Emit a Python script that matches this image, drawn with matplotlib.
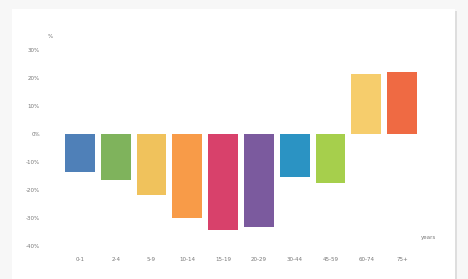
import matplotlib
matplotlib.use("Agg")
import matplotlib.pyplot as plt
from matplotlib.patches import Rectangle

# Datos
grupos = ["0-1", "2-4", "5-9", "10-14", "15-19", "20-29", "30-44", "45-59", "60-74", "75+"]
variacion = [-13.6, -16.4, -21.8, -30.0, -34.3, -33.2, -15.4, -17.5, 21.4, 22.1]
colores = ["#4f80b8", "#7fb35c", "#f0c25c", "#f89b48", "#d8416b",
           "#7b5a9e", "#2b93c3", "#a6cf4c", "#f6cd6c", "#ef6a43"]
ticks_y = [30, 20, 10, 0, -10, -20, -30, -40]

fig = plt.figure(figsize=(4.68, 2.79), dpi=100)
fig.patch.set_facecolor("#f7f7f7")

# Tarjeta blanca con sombra
fig.patches.append(Rectangle((14 / 468, -0.02), 443 / 468, 0.98, transform=fig.transFigure,
                             facecolor="#dedede", edgecolor="none", zorder=0))
fig.patches.append(Rectangle((12 / 468, -0.02), 443 / 468, 0.987, transform=fig.transFigure,
                             facecolor="white", edgecolor="none", zorder=1))

ax = fig.add_axes([62 / 468, (279 - 246) / 279, 358 / 468, 196 / 279])
ax.set_zorder(3)
ax.set_facecolor("none")

ax.bar(range(len(grupos)), variacion, width=0.83, color=colores)

ax.set_xlim(-0.5, len(grupos) - 0.5)
ax.set_ylim(-40, 30)
ax.set_yticks(ticks_y)
ax.set_yticklabels([f"{v}%" for v in ticks_y])
ax.set_xticks(range(len(grupos)))
ax.set_xticklabels(grupos)
ax.tick_params(axis="y", length=0, pad=16, labelsize=4, labelcolor="#777777")
ax.tick_params(axis="x", length=0, pad=8, labelsize=4, labelcolor="#777777")
for s in ax.spines.values():
    s.set_visible(False)

fig.text(50 / 468, 1 - 37 / 279, "%", fontsize=4, color="#777777", ha="center", va="center", zorder=4)
fig.text(428 / 468, 1 - 238 / 279, "years", fontsize=4, color="#777777", ha="center", va="center", zorder=4)

fig.savefig("out.png", dpi=100)
